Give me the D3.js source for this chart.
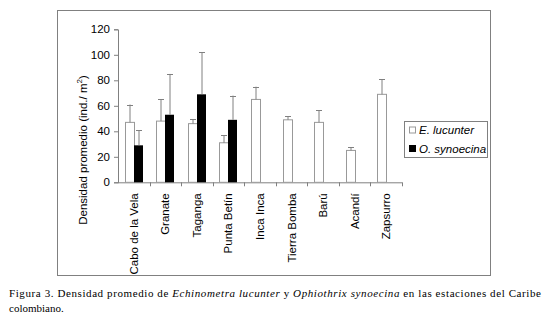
<!DOCTYPE html>
<html>
<head>
<meta charset="utf-8">
<script src="https://cdn.jsdelivr.net/npm/d3@7"></script>
<style>
  body { margin: 0; background: #fff; }
  svg { display: block; }
</style>
</head>
<body>
<script>
// estaciones y densidades
const stations = ["Cabo de la Vela", "Granate", "Taganga", "Punta Betín", "Inca Inca",
                  "Tierra Bomba", "Barú", "Acandí", "Zapsurro"];
const lucunter = [47, 48, 46, 31, 65, 49, 47, 25, 69];
const lucunterErr = [14, 17, 3.5, 6, 10, 3, 9.5, 2.5, 12];
const synoecina = [29, 53, 69, 49, null, null, null, null, null];
const synoecinaErr = [12, 32, 33, 19, null, null, null, null, null];
const yTicks = [0, 20, 40, 60, 80, 100, 120];

const w = 547;
const h = 321;
const plotLeft = 118, plotRight = 402, plotTop = 29.3, plotBottom = 182.3;
const barW = 9;
const grey = "#808080";

const svg = d3.select("body")
    .append("svg")
    .attr("width", w)
    .attr("height", h);

// frame round the chart
svg.append("rect")
    .attr("x", 57.5).attr("y", 10.5)
    .attr("width", 433).attr("height", 265)
    .attr("fill", "none")
    .attr("stroke", grey);

const xScale = d3.scaleBand().domain(stations).range([plotLeft, plotRight]).padding(0);
const yScale = d3.scaleLinear().domain([0, 120]).range([plotBottom, plotTop]);

// y axis
const yAxis = svg.append("g")
    .attr("transform", "translate(" + plotLeft + ",0)")
    .call(d3.axisLeft(yScale).tickValues(yTicks).tickSize(4).tickPadding(4));
yAxis.select(".domain").attr("stroke", grey);
yAxis.selectAll(".tick line").attr("stroke", grey);
yAxis.selectAll("text")
    .attr("font-family", "Liberation Sans, Arial, sans-serif")
    .attr("font-size", "11.5px")
    .attr("fill", "#000");

// x axis line with ticks between categories
const xAxis = svg.append("g");
xAxis.append("line")
    .attr("x1", plotLeft).attr("x2", plotRight)
    .attr("y1", plotBottom + 0.5).attr("y2", plotBottom + 0.5)
    .attr("stroke", grey);
xAxis.selectAll(".sep")
    .data(stations)
    .enter()
    .append("line")
    .attr("x1", d => Math.round(xScale(d) + xScale.bandwidth()) + 0.5)
    .attr("x2", d => Math.round(xScale(d) + xScale.bandwidth()) + 0.5)
    .attr("y1", plotBottom)
    .attr("y2", plotBottom + 4)
    .attr("stroke", grey);

// category labels
svg.selectAll(".cat")
    .data(stations)
    .enter()
    .append("text")
    .attr("class", "cat")
    .attr("transform", d => "translate(" + (xScale(d) + xScale.bandwidth() / 2) + "," + (plotBottom + 11) + ") rotate(-90)")
    .attr("text-anchor", "end")
    .attr("dy", "0.35em")
    .attr("font-family", "Liberation Sans, Arial, sans-serif")
    .attr("font-size", "11.5px")
    .text(d => d);

const cx = d => xScale(d) + xScale.bandwidth() / 2;

// E. lucunter bars
svg.selectAll(".luc")
    .data(stations)
    .enter()
    .append("rect")
    .attr("x", d => Math.round(cx(d)) - barW + 0.5)
    .attr("y", (d, i) => yScale(lucunter[i]))
    .attr("width", barW)
    .attr("height", (d, i) => plotBottom - yScale(lucunter[i]))
    .attr("fill", "#fff")
    .attr("stroke", "#999");

// O. synoecina bars
const synIdx = stations.map((d, i) => i).filter(i => synoecina[i] != null);
svg.selectAll(".syn")
    .data(synIdx)
    .enter()
    .append("rect")
    .attr("x", i => Math.round(cx(stations[i])))
    .attr("y", i => yScale(synoecina[i]))
    .attr("width", barW)
    .attr("height", i => plotBottom - yScale(synoecina[i]))
    .attr("fill", "#000");

// error bars (upward only)
const errData = [];
stations.forEach((d, i) => {
    errData.push({ x: Math.round(cx(d)) - barW / 2 + 0.5, v: lucunter[i], e: lucunterErr[i] });
    if (synoecina[i] != null) {
        errData.push({ x: Math.round(cx(d)) + barW / 2 + 0.5, v: synoecina[i], e: synoecinaErr[i] });
    }
});
const eb = svg.selectAll(".err").data(errData).enter().append("g");
eb.append("line")
    .attr("x1", d => d.x).attr("x2", d => d.x)
    .attr("y1", d => yScale(d.v)).attr("y2", d => yScale(d.v + d.e))
    .attr("stroke", grey);
eb.append("line")
    .attr("x1", d => d.x - 3).attr("x2", d => d.x + 3)
    .attr("y1", d => Math.round(yScale(d.v + d.e)) + 0.5)
    .attr("y2", d => Math.round(yScale(d.v + d.e)) + 0.5)
    .attr("stroke", grey);

// y label
svg.append("text")
    .attr("transform", "translate(87," + 150 + ") rotate(-90)")
    .attr("text-anchor", "middle")
    .attr("font-family", "Liberation Sans, Arial, sans-serif")
    .attr("font-size", "11.5px")
    .html('Densidad promedio (ind./ m<tspan dy="-5" font-size="8px">2</tspan><tspan dy="5">)</tspan>');

// legend
const legend = svg.append("g");
legend.append("rect")
    .attr("x", 404.5).attr("y", 121.5)
    .attr("width", 83).attr("height", 36)
    .attr("fill", "#fff").attr("stroke", grey);
const legItems = [
    { name: "E. lucunter", fill: "#fff", y: 130 },
    { name: "O. synoecina", fill: "#000", y: 148.5 }
];
legend.selectAll("rect.key")
    .data(legItems)
    .enter()
    .append("rect")
    .attr("class", "key")
    .attr("x", 409.5).attr("y", d => d.y - 3)
    .attr("width", 6).attr("height", 6)
    .attr("fill", d => d.fill)
    .attr("stroke", d => d.fill == "#000" ? "#000" : "#999");
legend.selectAll("text")
    .data(legItems)
    .enter()
    .append("text")
    .attr("x", 419).attr("y", d => d.y)
    .attr("dy", "0.35em")
    .attr("font-family", "Liberation Sans, Arial, sans-serif")
    .attr("font-size", "11.5px")
    .attr("font-style", "italic")
    .text(d => d.name);

// caption
const cap = svg.append("text")
    .attr("x", 9).attr("y", 297)
    .attr("font-family", "Liberation Serif, Times New Roman, serif")
    .attr("font-size", "11px")
    .attr("textLength", 532)
    .attr("lengthAdjust", "spacing");
cap.append("tspan").text("Figura 3. Densidad promedio de ");
cap.append("tspan").attr("font-style", "italic").text("Echinometra lucunter");
cap.append("tspan").text(" y ");
cap.append("tspan").attr("font-style", "italic").text("Ophiothrix synoecina");
cap.append("tspan").text(" en las estaciones del Caribe");
svg.append("text")
    .attr("x", 9).attr("y", 311.5)
    .attr("font-family", "Liberation Serif, Times New Roman, serif")
    .attr("font-size", "11px")
    .text("colombiano.");
</script>
</body>
</html>
